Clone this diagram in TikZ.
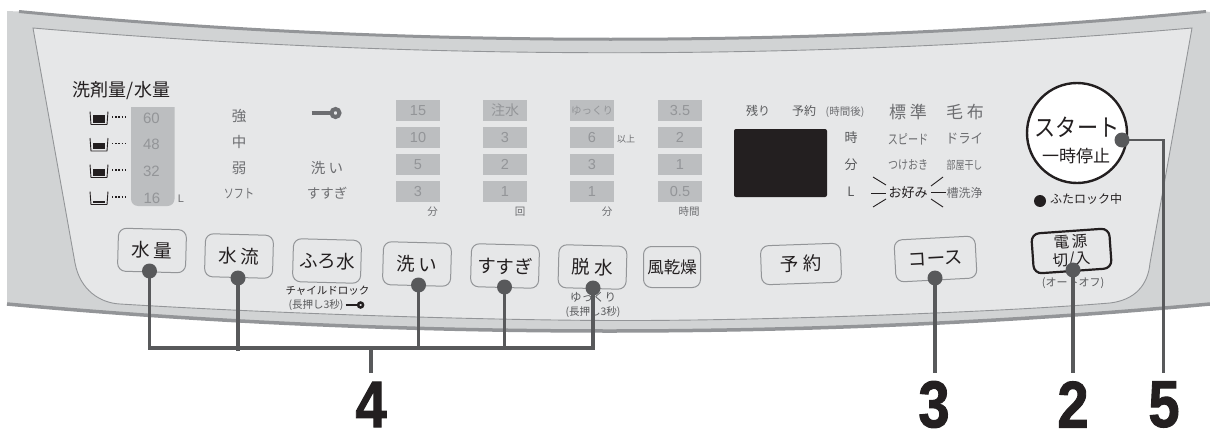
\documentclass[tikz,border=0pt]{standalone}
\usepackage{fontspec}
\newfontfamily\jp{Noto Sans CJK JP}
\newfontfamily\num{Liberation Sans}
\newfontfamily\numb[FakeBold=1.6]{Liberation Sans}
\definecolor{outerc}{HTML}{D1D3D4}
\definecolor{innerc}{HTML}{E6E7E8}
\definecolor{edgec}{HTML}{939598}
\definecolor{barc}{HTML}{BCBEC0}
\definecolor{litc}{HTML}{939598}
\definecolor{midc}{HTML}{6D6E71}
\definecolor{conc}{HTML}{58595B}
\definecolor{inkc}{HTML}{231F20}
\tikzset{
  lab/.style={inner sep=0pt,outer sep=0pt,anchor=center},
  btn/.style={draw=edgec,line width=1pt,rounded corners=8pt,fill=innerc,minimum width=68pt,minimum height=43pt,inner sep=0pt,text=inkc,font=\jp\fontsize{18.5}{20}\selectfont},
  pwr/.style={btn,draw=inkc,line width=2.2pt,minimum width=78pt,minimum height=40pt,font=\jp\fontsize{15.5}{17.5}\selectfont,align=center},
  disp/.style={draw=none,fill=barc,minimum width=44pt,minimum height=21pt,inner sep=0pt,text=litc,font=\num\fontsize{14.5}{15}\selectfont},
  dot/.style={circle,fill=conc,draw=none,minimum size=15pt,inner sep=0pt},
  con/.style={draw=conc,line width=3.6pt},
  digit/.style={inner sep=0pt,text=inkc,font=\numb\bfseries\fontsize{66}{66}\selectfont,xscale=0.85},
  ray/.style={draw=inkc,line width=0.9pt}
}
\newcommand\lab[5]{\node[lab,text=#4,font=\jp\fontsize{#3}{#3}\selectfont] (#1) at (#2) {#5};}
\newcommand\xlab[6]{\node[lab,xscale=#6,text=#4,font=\jp\fontsize{#3}{#3}\selectfont] (#1) at (#2) {#5};}
\newcommand\numlab[5]{\node[lab,text=#4,font=\num\fontsize{#3}{#3}\selectfont] (#1) at (#2) {#5};}
\newcommand\cupicon[3]{%
  \draw[inkc,line width=0.9pt] (#1-9,#2-6.5) -- (#1-8,#2+6.5) -- (#1+8,#2+6.5) -- (#1+9,#2-6.5);
  \fill[inkc] (#1-6,#2+#3) rectangle (#1+6,#2+4.5);
  \draw[inkc,line width=1.1pt,dash pattern=on 1.4pt off 1.8pt] (#1+13,#2-1) -- (#1+28,#2-1);
}
\newcommand\keyicon[4]{%
  \begin{scope}[shift={(#1,#2)},scale=#3]
    \draw[#4,line width=3.4pt*#3] (-15,0) -- (6,0);
    \draw[#4,line width=4pt*#3,fill=innerc] (9,0) circle (4);
  \end{scope}
}
\begin{document}
\begin{tikzpicture}[x=1pt,y=-1pt]
\useasboundingbox (0,0) rectangle (1210,431);
% body
\fill[outerc] (7,11) -- (19,11.5) .. controls (400,48.5) and (820,48.5) .. (1206,11.5) -- (1210,12) -- (1210,304)
  .. controls (820,340) and (400,340) .. (7,304) -- cycle;
\draw[edgec,line width=3pt] (19,11.5) .. controls (400,48.5) and (820,48.5) .. (1206,11.5);
\draw[edgec,line width=3.5pt] (7,304) .. controls (400,340) and (820,340) .. (1210,304);
% inner face
\draw[edgec,line width=0.9pt,fill=innerc] (33,28) .. controls (420,61) and (810,61) .. (1192,28)
  -- (1150,263) .. controls (1148,285) and (1135,300) .. (1110,303)
  .. controls (1000,312) and (780,320) .. (640,320.5)
  .. controls (520,321) and (300,315) .. (120,304)
  .. controls (100,303) and (80,290) .. (75,263) -- cycle;
% water column
\fill[barc,rounded corners=7pt] (131,100) -- (131,206) -- (174.5,206) -- (174.5,100) -- cycle;
\fill[innerc] (125,95) rectangle (180,107);
\lab{title}{121.5,91}{18}{inkc}{洗剤量/水量}
\numlab{w60}{151.5,118}{15}{litc}{60}
\numlab{w48}{151.5,144.5}{15}{litc}{48}
\numlab{w32}{151.5,171}{15}{litc}{32}
\numlab{w16}{152,198}{15}{litc}{16}
\numlab{wL}{181,199}{11}{midc}{L}
\cupicon{99}{118}{-3}
\cupicon{99}{144.5}{-2}
\cupicon{99}{171}{-2}
\cupicon{99}{198}{2.5}
% flow labels
\lab{fa}{239,116}{14.5}{midc}{強}
\lab{fb}{239,142}{14.5}{midc}{中}
\lab{fc}{239,168}{14.5}{midc}{弱}
\xlab{fd}{239,194}{13}{midc}{ソフト}{0.77}
\keyicon{326.5}{113}{1}{midc}
\lab{ka}{327,168}{14.5}{midc}{洗 い}
\lab{kb}{327,193.5}{13.5}{midc}{すすぎ}
% indicator boxes
\node[disp] (a1) at (418,110.5) {15};
\node[disp] (a2) at (418,137.5) {10};
\node[disp] (a3) at (418,164.5) {5};
\node[disp] (a4) at (418,191.5) {3};
\node[disp,font=\jp\fontsize{14}{14}\selectfont] (b1) at (505,110.5) {注水};
\node[disp] (b2) at (505,137.5) {3};
\node[disp] (b3) at (505,164.5) {2};
\node[disp] (b4) at (505,191.5) {1};
\node[disp,font=\jp\fontsize{10.5}{11}\selectfont] (c1) at (592,110.5) {ゆっくり};
\node[disp] (c2) at (592,137.5) {6};
\node[disp] (c3) at (592,164.5) {3};
\node[disp] (c4) at (592,191.5) {1};
\node[disp] (d1) at (680,110.5) {3.5};
\node[disp] (d2) at (680,137.5) {2};
\node[disp] (d3) at (680,164.5) {1};
\node[disp] (d4) at (680,191.5) {0.5};
\lab{ijo}{626,139.5}{9}{midc}{以上}
\lab{ua}{432.5,212}{10.5}{midc}{分}
\lab{ub}{520,212}{10.5}{midc}{回}
\lab{uc}{607,212}{10.5}{midc}{分}
\lab{ud}{689,212}{10.5}{midc}{時間}
% display
\lab{nokori}{758,111}{12}{conc}{残り}
\lab{yoyaku}{804,111}{12}{conc}{予約}
\lab{jikan}{845,112}{10.5}{midc}{(時間後)}
\node[fill=inkc,rounded corners=2pt,minimum width=93pt,minimum height=68pt,inner sep=0pt] (screen) at (780.5,163) {};
\lab{hr}{851,138}{13}{conc}{時}
\lab{mn}{851,165}{13}{conc}{分}
\lab{lt}{851,192}{13}{conc}{L}
% courses
\lab{ca}{908,112}{17}{midc}{標 準}
\lab{cb}{965,112}{17}{midc}{毛 布}
\xlab{cc}{908,139}{13.5}{midc}{スピード}{0.75}
\xlab{cd}{964.5,139}{13.5}{midc}{ドライ}{0.92}
\xlab{ce}{908,165}{12.5}{midc}{つけおき}{0.8}
\xlab{cf}{964.5,165}{11.5}{midc}{部屋干し}{0.78}
\lab{cg}{908,192.5}{13}{inkc}{お好み}
\lab{ch}{964.5,192.5}{12}{midc}{槽洗浄}
\draw[ray] (873,177) -- (886,185);
\draw[ray] (871,193) -- (886,193);
\draw[ray] (873,207) -- (886,199);
\draw[ray] (943,177) -- (931,186);
\draw[ray] (946,192.5) -- (931,192.5);
\draw[ray] (943,207) -- (931,199);
% start button
\node[circle,draw=inkc,line width=2.4pt,fill=white,minimum size=100pt,inner sep=0pt] (start) at (1077,133) {};
\xlab{sta}{1077,127}{24}{inkc}{スタート}{0.88}
\lab{stb}{1076,156}{17}{inkc}{一時停止}
\node[circle,fill=inkc,minimum size=12pt,inner sep=0pt] (lockdot) at (1040,201) {};
\lab{lock}{1086,198.5}{12}{inkc}{ふたロック中}
% buttons
\node[btn,rotate=-1.5] (b-suiryo) at (152,250.5) {水 量};
\node[btn,rotate=-1.5] (b-suiryu) at (239,256) {水 流};
\node[btn,rotate=-1.5] (b-furo) at (327,261) {ふろ水};
\node[btn,rotate=-1.5] (b-arai) at (417,264) {洗 い};
\node[btn,rotate=-1.5] (b-susugi) at (505,266) {すすぎ};
\node[btn,rotate=-1.5] (b-dassui) at (592.5,267) {脱 水};
\node[btn,minimum width=57pt,minimum height=41pt,font=\jp\fontsize{16.5}{18}\selectfont] (b-kaze) at (672,267) {風乾燥};
\node[btn,rotate=2,minimum width=80pt,minimum height=39pt] (b-yoyaku) at (801,264) {予 約};
\node[btn,rotate=3,minimum width=81pt,minimum height=42pt] (b-course) at (935.5,259) {コース};
\node[pwr,rotate=4] (b-power) at (1071.5,251) {電 源\\切/入};
\lab{chi}{327.5,291}{10.5}{inkc}{チャイルドロック}
\lab{cho}{316,305}{10.5}{conc}{(長押し3秒)}
\keyicon{355}{305}{0.62}{inkc}
\lab{yuk}{593,297}{11.5}{conc}{ゆっくり}
\lab{cho2}{593,312}{10.5}{conc}{(長押し3秒)}
\lab{auto}{1073,283}{11}{conc}{(オートオフ)}
% connectors
\node[dot] (p1) at (149.5,271) {};
\node[dot] (p2) at (238,278) {};
\node[dot] (p3) at (418.5,285) {};
\node[dot] (p4) at (504.5,287) {};
\node[dot] (p5) at (593,288) {};
\node[dot] (p6) at (935,278) {};
\node[dot] (p7) at (1073,270) {};
\node[dot] (p8) at (1122,140) {};
\coordinate (j1) at (149.5,348);
\coordinate (j2) at (238,351);
\coordinate (j3) at (418.5,348);
\coordinate (j4) at (504.5,348);
\coordinate (j5) at (593,348);
\coordinate (j0) at (371,348);
\coordinate (e4) at (371,373);
\coordinate (e3) at (935,373);
\coordinate (e2) at (1073,373);
\coordinate (e5) at (1163.5,373);
\coordinate (k5) at (1163.5,140);
\draw[con] (p1.center) -- (j1);
\draw[con] (p2.center) -- (j2);
\draw[con] (p3.center) -- (j3);
\draw[con] (p4.center) -- (j4);
\draw[con] (p5.center) -- (j5);
\draw[con,line cap=rect] (j1) -- (j5);
\draw[con] (j0) -- (e4);
\draw[con] (p6.center) -- (e3);
\draw[con] (p7.center) -- (e2);
\draw[con,line width=2.6pt] (p8.center) -- (k5) -- (e5);
% numbers
\node[digit] (n4) at (371,404.5) {4};
\node[digit] (n3) at (934,404.5) {3};
\node[digit] (n2) at (1073,404.5) {2};
\node[digit] (n5) at (1164,404.5) {5};
\end{tikzpicture}
\end{document}
